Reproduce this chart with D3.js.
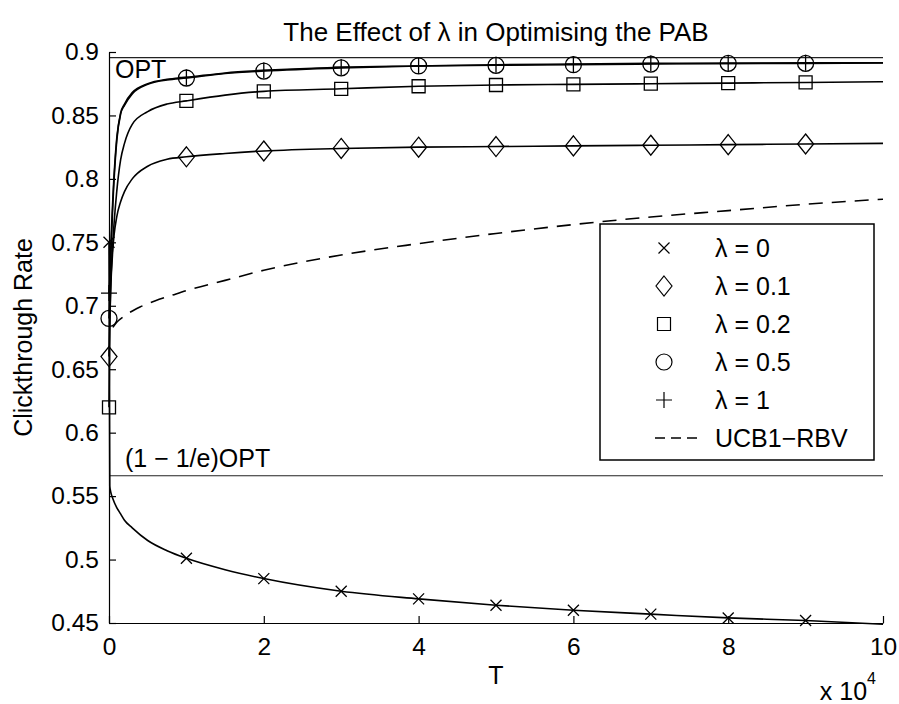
<!DOCTYPE html>
<html>
<head>
<meta charset="utf-8">
<script src="https://cdn.jsdelivr.net/npm/d3@7"></script>
<style>
  body { margin: 0; background: #fff; }
  text { font-family: "Liberation Sans", Arial, sans-serif; fill: #000; }
</style>
</head>
<body>
<div id="chart"></div>
<script>
// sample points (T) shared by the lambda curves
const T = [0, 100, 200, 500, 1000, 1500, 2000, 3000, 5000, 7500, 10000, 15000, 20000,
           30000, 40000, 50000, 60000, 70000, 80000, 90000, 100000];

const lam0  = [0.750, 0.558, 0.554, 0.548, 0.541, 0.536, 0.531, 0.525, 0.515, 0.507, 0.501, 0.492, 0.485,
               0.475, 0.469, 0.464, 0.460, 0.457, 0.454, 0.452, 0.449];
const lam01 = [0.660, 0.690, 0.710, 0.745, 0.770, 0.782, 0.790, 0.800, 0.810, 0.8155, 0.8174, 0.820, 0.822,
               0.824, 0.825, 0.8255, 0.826, 0.8265, 0.827, 0.8275, 0.828];
const lam02 = [0.620, 0.680, 0.710, 0.750, 0.790, 0.815, 0.828, 0.843, 0.853, 0.859, 0.8615, 0.866, 0.869,
               0.871, 0.873, 0.874, 0.8745, 0.875, 0.8755, 0.876, 0.8766];
const lam05 = [0.690, 0.705, 0.730, 0.780, 0.830, 0.851, 0.858, 0.867, 0.8745, 0.878, 0.8795, 0.883, 0.885,
               0.8875, 0.889, 0.8895, 0.890, 0.8905, 0.891, 0.891, 0.8913];
const lam1  = [0.710, 0.720, 0.740, 0.785, 0.832, 0.852, 0.859, 0.868, 0.875, 0.8785, 0.880, 0.8835, 0.8855,
               0.888, 0.889, 0.890, 0.8905, 0.891, 0.891, 0.8915, 0.8915];

// UCB1-RBV baseline
const ucbT = [500, 1000, 2000, 4000, 6000, 8000, 10000, 15000, 20000, 30000, 40000, 50000,
              60000, 70000, 80000, 90000, 100000];
const ucb  = [0.683, 0.687, 0.692, 0.699, 0.704, 0.708, 0.712, 0.720, 0.728, 0.740, 0.749, 0.757,
              0.764, 0.770, 0.775, 0.780, 0.784];

const markT = [0, 10000, 20000, 30000, 40000, 50000, 60000, 70000, 80000, 90000];

const OPT = 0.8955;
const xTicks = [0, 20000, 40000, 60000, 80000, 100000];
const yTicks = [0.45, 0.5, 0.55, 0.6, 0.65, 0.7, 0.75, 0.8, 0.85, 0.9];

const series = [
  { name: "\u03bb = 0",   values: lam0,  marker: "x" },
  { name: "\u03bb = 0.1", values: lam01, marker: "diamond" },
  { name: "\u03bb = 0.2", values: lam02, marker: "square" },
  { name: "\u03bb = 0.5", values: lam05, marker: "circle" },
  { name: "\u03bb = 1",   values: lam1,  marker: "plus" }
];

const W = 899, H = 704;
const margin = { top: 52, right: 16, bottom: 81, left: 109 };
const width = W - margin.left - margin.right;
const height = H - margin.top - margin.bottom;
const FS = 24.5;

const svg = d3.select("#chart").append("svg")
  .attr("width", W).attr("height", H);

const g = svg.append("g")
  .attr("transform", `translate(${margin.left},${margin.top})`);

const x = d3.scaleLinear().domain([0, 100000]).range([0, width]);
const y = d3.scaleLinear().domain([0.45, 0.9]).range([height, 0]);

function markerPath(type) {
  switch (type) {
    case "x": return "M-5.5,-5.5L5.5,5.5M-5.5,5.5L5.5,-5.5";
    case "plus": return "M-8,0L8,0M0,-8L0,8";
    case "diamond": return "M0,-10L8,0L0,10L-8,0Z";
    case "square": return "M-6.5,-6.5H6.5V6.5H-6.5Z";
    case "circle": return "M8,0A8,8 0 1,1 -8,0A8,8 0 1,1 8,0Z";
  }
}

// reference lines
const low = (1 - 1 / Math.E) * OPT;
g.append("line")
  .attr("x1", 0).attr("x2", width)
  .attr("y1", y(OPT)).attr("y2", y(OPT))
  .attr("stroke", "#222").attr("stroke-width", 1.2);
g.append("line")
  .attr("x1", 0).attr("x2", width)
  .attr("y1", y(low)).attr("y2", y(low))
  .attr("stroke", "#222").attr("stroke-width", 1.2);

g.append("text").attr("x", 6).attr("y", y(OPT) + 20)
  .attr("font-size", 25).text("OPT");
g.append("text").attr("x", 16).attr("y", y(low) - 9)
  .attr("font-size", 25).text("(1 \u2212 1/e)OPT");

// axes (ticks inward, no box)
const xAxis = g.append("g")
  .attr("transform", `translate(0,${height})`)
  .call(d3.axisBottom(x).tickValues(xTicks).tickSizeInner(-7).tickSizeOuter(0)
    .tickPadding(15).tickFormat(d => d / 10000));
const yAxis = g.append("g")
  .call(d3.axisLeft(y).tickValues(yTicks).tickSizeInner(-7).tickSizeOuter(0)
    .tickPadding(10).tickFormat(d => String(+d.toFixed(2))));
[xAxis, yAxis].forEach(a => {
  a.selectAll("text").attr("font-size", FS).attr("font-family", "Liberation Sans, Arial, sans-serif").attr("fill", "#000");
  a.selectAll("line, path").attr("stroke", "#000").attr("stroke-width", 1.2);
});
xAxis.selectAll(".tick text").attr("dy", "0.71em");

const line = d3.line().x(d => x(d[0])).y(d => y(d[1])).curve(d3.curveMonotoneX);

series.forEach(s => {
  const pts = T.map((t, i) => [t, s.values[i]]);
  g.append("path").datum(pts)
    .attr("fill", "none").attr("stroke", "#000").attr("stroke-width", 1.6)
    .attr("d", line);
  g.selectAll(null)
    .data(pts.filter(p => markT.includes(p[0])))
    .enter().append("path")
    .attr("transform", d => `translate(${x(d[0])},${y(d[1])})`)
    .attr("d", markerPath(s.marker))
    .attr("fill", "none").attr("stroke", "#000").attr("stroke-width", 1.3);
});

g.append("path").datum(ucbT.map((t, i) => [t, ucb[i]]))
  .attr("fill", "none").attr("stroke", "#000").attr("stroke-width", 1.6)
  .attr("stroke-dasharray", "14,9")
  .attr("d", line);

// legend
const lg = svg.append("g").attr("transform", "translate(600,224)");
const lgW = 274, lgH = 236, rowH = 38;
lg.append("rect").attr("width", lgW).attr("height", lgH)
  .attr("fill", "#fff").attr("stroke", "#000").attr("stroke-width", 1.5);
const legendItems = series.map(s => ({ name: s.name, marker: s.marker }))
  .concat([{ name: "UCB1\u2212RBV", marker: null }]);
legendItems.forEach((it, i) => {
  const cy = 24 + i * rowH;
  if (it.marker) {
    lg.append("path").attr("transform", `translate(64,${cy})`)
      .attr("d", markerPath(it.marker))
      .attr("fill", "none").attr("stroke", "#000").attr("stroke-width", 1.2);
  } else {
    lg.append("line").attr("x1", 55).attr("x2", 97).attr("y1", cy).attr("y2", cy)
      .attr("stroke", "#000").attr("stroke-width", 1.4).attr("stroke-dasharray", "10,6");
  }
  lg.append("text").attr("x", 115).attr("y", cy).attr("dy", "0.36em")
    .attr("font-size", 25).text(it.name);
});

// titles and labels
svg.append("text").attr("x", margin.left + width / 2).attr("y", 41)
  .attr("text-anchor", "middle").attr("font-size", 26)
  .text("The Effect of \u03bb in Optimising the PAB");
svg.append("text").attr("x", margin.left + width / 2).attr("y", 684)
  .attr("text-anchor", "middle").attr("font-size", 25).text("T");
svg.append("text")
  .attr("transform", `translate(32,${margin.top + height / 2}) rotate(-90)`)
  .attr("text-anchor", "middle").attr("font-size", 25).text("Clickthrough Rate");
const mult = svg.append("text").attr("x", 876).attr("y", 700)
  .attr("text-anchor", "end").attr("font-size", 25);
mult.append("tspan").text("x 10");
mult.append("tspan").attr("dy", -16).attr("font-size", 16).text("4");
</script>
</body>
</html>
